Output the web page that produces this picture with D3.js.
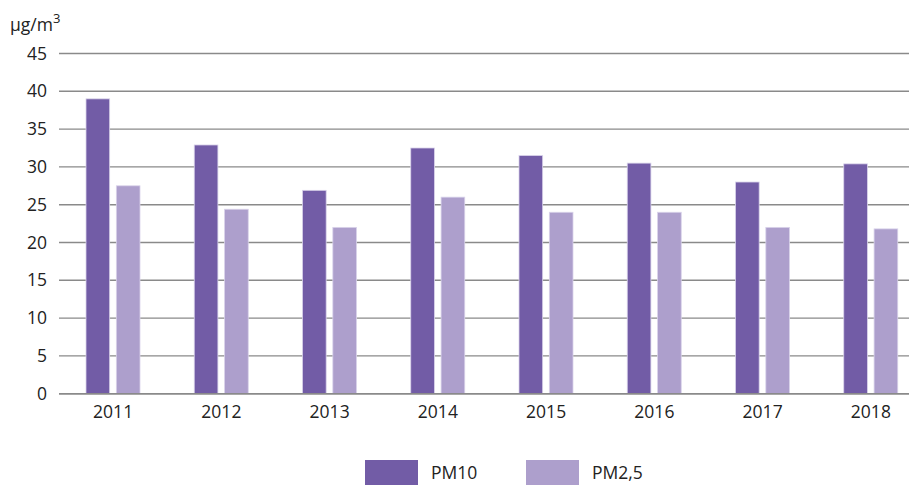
<!DOCTYPE html>
<html>
<head>
<meta charset="utf-8">
<script src="https://cdn.jsdelivr.net/npm/d3@7/dist/d3.min.js"></script>
<style>
  body { margin: 0; background: #fff; }
  svg { display: block; font-family: "Open Sans", "Noto Sans", sans-serif; }
</style>
</head>
<body>
<svg id="chart" width="914" height="485"></svg>
<script>
// Annual mean concentrations of particulate matter
const years = ["2011", "2012", "2013", "2014", "2015", "2016", "2017", "2018"];
const pm10 = [39, 32.9, 26.9, 32.5, 31.5, 30.5, 28, 30.4];
const pm25 = [27.5, 24.4, 22, 26, 24, 24, 22, 21.8];
const seriesNames = ["PM10", "PM2,5"];
const seriesColors = ["#725ca6", "#ad9fcc"];
const yTicks = [0, 5, 10, 15, 20, 25, 30, 35, 40, 45];

const svg = d3.select("#chart");
const gridLeft = 59, gridRight = 909;
const fontSize = 17.5;

const x = d3.scaleBand().domain(years).range([59, 925]);
const y = d3.scaleLinear().domain([0, 45]).range([393.7, 53.5]);
const sub = d3.scaleBand().domain(seriesNames).range([27, 81]).paddingInner(0.22);

// gridlines
svg.append("g").selectAll("line").data(yTicks).join("line")
  .attr("x1", gridLeft).attr("x2", gridRight)
  .attr("y1", d => y(d)).attr("y2", d => y(d))
  .attr("stroke", "#8a8a8a").attr("stroke-width", 1.4);

// y axis labels
const yAxis = d3.axisLeft(y).tickValues(yTicks).tickSize(0).tickPadding(0);
svg.append("g").attr("transform", "translate(47,0)").call(yAxis)
  .call(g => g.select(".domain").remove())
  .selectAll("text").attr("font-size", fontSize).attr("fill", "#222")
  .attr("font-family", "'Open Sans', sans-serif");

// unit label
svg.append("text").attr("x", 10).attr("y", 31).attr("font-size", fontSize).attr("fill", "#222")
  .text("μg/m").append("tspan").attr("dy", -8).attr("font-size", 13).text("3");

// bars
const rows = years.map((yr, i) => ({ year: yr, values: [pm10[i], pm25[i]] }));
const groups = svg.append("g").selectAll("g").data(rows).join("g")
  .attr("transform", d => `translate(${x(d.year)},0)`);
groups.selectAll("rect").data(d => d.values.map((v, j) => ({ name: seriesNames[j], v, j })))
  .join("rect")
  .attr("x", d => sub(d.name))
  .attr("width", sub.bandwidth())
  .attr("y", d => y(d.v))
  .attr("height", d => y(0) - y(d.v))
  .attr("fill", d => seriesColors[d.j])
  .attr("stroke", "#d9d3ea").attr("stroke-width", 0.8);

// baseline on top of bars
svg.append("line").attr("x1", gridLeft).attr("x2", gridRight)
  .attr("y1", y(0)).attr("y2", y(0)).attr("stroke", "#8a8a8a").attr("stroke-width", 1.4);

// x axis labels
const xAxis = d3.axisBottom(x).tickSize(0).tickPadding(0);
svg.append("g").attr("transform", `translate(0,${y(0) + 12})`).call(xAxis)
  .call(g => g.select(".domain").remove())
  .selectAll("text").attr("font-size", fontSize).attr("fill", "#222")
  .attr("font-family", "'Open Sans', sans-serif");

// legend
const legendX = [365, 526];
const legend = svg.append("g").selectAll("g").data(seriesNames).join("g")
  .attr("transform", (d, i) => `translate(${legendX[i]},460)`);
legend.append("rect").attr("width", 53).attr("height", 25)
  .attr("fill", (d, i) => seriesColors[i]);
legend.append("text").attr("x", 66).attr("y", 19).attr("font-size", fontSize).attr("fill", "#222")
  .text(d => d);
</script>
</body>
</html>
